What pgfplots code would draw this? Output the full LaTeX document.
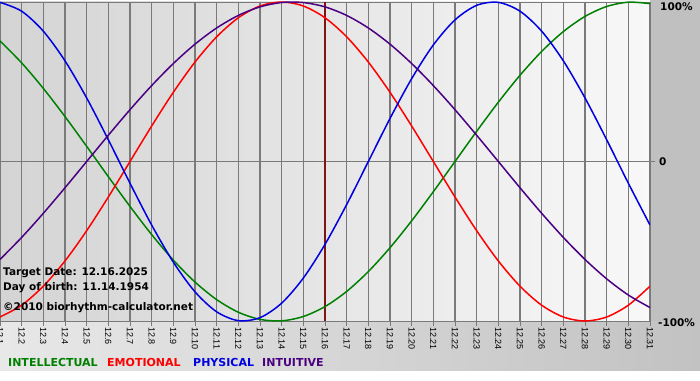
\documentclass[border=0pt]{standalone}
\usepackage{pgfplots}
\pgfplotsset{compat=1.18}
\usepackage{fontspec}
\setmainfont{Liberation Sans}
\newfontfamily\dvb{DejaVu Sans Bold}
\definecolor{cInt}{HTML}{008000}
\definecolor{cEmo}{HTML}{FF0000}
\definecolor{cPhy}{HTML}{0000E0}
\definecolor{cItu}{HTML}{4B0082}
\definecolor{cNow}{HTML}{7F1414}
\definecolor{gridc}{HTML}{7A7A7A}
\definecolor{bgL}{HTML}{D4D4D4}
\definecolor{bgR}{HTML}{F8F8F8}
\definecolor{bandL}{HTML}{E8E8E8}
\definecolor{bandR}{HTML}{C2C2C2}
\definecolor{marg}{HTML}{C0C0C0}

\pgfplotstableread{
d phy emo int itu
1 0.9977 -0.9749 0.7557 -0.6142
2 0.9423 -0.9010 0.6182 -0.4759
3 0.8170 -0.7818 0.4582 -0.3247
4 0.6311 -0.6235 0.2817 -0.1646
5 0.3984 -0.4339 0.0951 0.0000
6 0.1362 -0.2225 -0.0951 0.1646
7 -0.1362 0.0000 -0.2817 0.3247
8 -0.3984 0.2225 -0.4582 0.4759
9 -0.6311 0.4339 -0.6182 0.6142
10 -0.8170 0.6235 -0.7557 0.7357
11 -0.9423 0.7818 -0.8660 0.8372
12 -0.9977 0.9010 -0.9450 0.9158
13 -0.9791 0.9749 -0.9898 0.9694
14 -0.8879 1.0000 -0.9989 0.9966
15 -0.7308 0.9749 -0.9718 0.9966
16 -0.5196 0.9010 -0.9096 0.9694
17 -0.2698 0.7818 -0.8146 0.9158
18 0.0000 0.6235 -0.6901 0.8372
19 0.2698 0.4339 -0.5406 0.7357
20 0.5196 0.2225 -0.3717 0.6142
21 0.7308 0.0000 -0.1893 0.4759
22 0.8879 -0.2225 0.0000 0.3247
23 0.9791 -0.4339 0.1893 0.1646
24 0.9977 -0.6235 0.3717 0.0000
25 0.9423 -0.7818 0.5406 -0.1646
26 0.8170 -0.9010 0.6901 -0.3247
27 0.6311 -0.9749 0.8146 -0.4759
28 0.3984 -1.0000 0.9096 -0.6142
29 0.1362 -0.9749 0.9718 -0.7357
30 -0.1362 -0.9010 0.9989 -0.8372
31 -0.3984 -0.7818 0.9898 -0.9158
}\bio

\begin{document}
\begin{tikzpicture}[x=1pt,y=1pt]
\path[use as bounding box] (0,0) rectangle (700,380);
\fill[white] (0,0) rectangle (700,380);
\shade[left color=bandL, right color=bandR] (0,10) rectangle (700,59);
\fill[marg] (650,59) rectangle (700,380);
\begin{axis}[
  at={(0pt,59pt)}, anchor=south west,
  width=650pt, height=319pt, scale only axis,
  xmin=1, xmax=31, ymin=-1, ymax=1,
  axis background/.style={left color=bgL, right color=bgR},
  axis line style={draw=gridc, line width=0.8pt},
  xtick={1,...,31},
  xticklabels={12.1,12.2,12.3,12.4,12.5,12.6,12.7,12.8,12.9,12.10,12.11,12.12,12.13,12.14,12.15,12.16,12.17,12.18,12.19,12.20,12.21,12.22,12.23,12.24,12.25,12.26,12.27,12.28,12.29,12.30,12.31},
  xtick pos=bottom,
  ytick={0}, yticklabels={}, ytick pos=right,
  tick align=outside, major tick length=5pt,
  tick style={draw=gridc, line width=1pt},
  xmajorgrids, ymajorgrids,
  grid style={draw=gridc, line width=1.3pt},
  xticklabel style={rotate=-90, anchor=west, inner sep=1pt, font=\fontsize{9}{10}\selectfont, text=black},
  every axis plot/.append style={line width=1.5pt, smooth, no markers},
]
\addplot[cNow, line width=2pt, sharp plot] coordinates {(16,-1) (16,1)};
\addplot[cInt] table[x=d, y=int] {\bio};
\addplot[cEmo] table[x=d, y=emo] {\bio};
\addplot[cPhy] table[x=d, y=phy] {\bio};
\addplot[cItu] table[x=d, y=itu] {\bio};
\end{axis}
\begin{scope}[every node/.style={inner sep=0pt, anchor=base west}]
\node[font=\dvb\fontsize{10.5}{12}\selectfont] at (3,104.3) {Target Date: 12.16.2025};
\node[font=\dvb\fontsize{10.5}{12}\selectfont] at (3,90) {Day of birth: 11.14.1954};
\node[font=\dvb\fontsize{10.5}{12}\selectfont] at (3,70) {©2010 biorhythm-calculator.net};
\node[font=\dvb\fontsize{10.5}{12}\selectfont] at (660,369.3) {100\%};
\node[font=\dvb\fontsize{10.5}{12}\selectfont] at (659,214) {0};
\node[font=\dvb\fontsize{10.5}{12}\selectfont] at (658,54) {-100\%};
\node[font=\dvb\fontsize{11}{13}\selectfont, text=cInt] at (8,14) {INTELLECTUAL};
\node[font=\dvb\fontsize{11}{13}\selectfont, text=cEmo] at (107,14) {EMOTIONAL};
\node[font=\dvb\fontsize{11}{13}\selectfont, text=cPhy] at (193,14) {PHYSICAL};
\node[font=\dvb\fontsize{11}{13}\selectfont, text=cItu] at (262,14) {INTUITIVE};
\end{scope}
\end{tikzpicture}
\end{document}
